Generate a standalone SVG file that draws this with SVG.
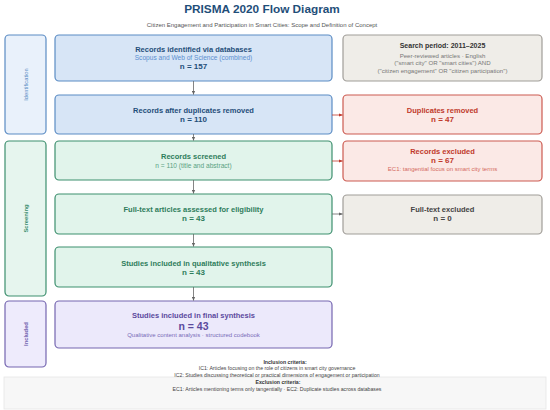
<svg xmlns="http://www.w3.org/2000/svg" width="550" height="410" viewBox="0 0 550 410">
<defs>
<marker id="ag" viewBox="0 0 6 6" refX="5.5" refY="3" markerWidth="5" markerHeight="5" orient="auto"><path d="M0,0.5 L6,3 L0,5.5 Z" fill="#666"/></marker>
<marker id="ar" viewBox="0 0 6 6" refX="5.5" refY="3" markerWidth="5" markerHeight="5" orient="auto"><path d="M0,0.5 L6,3 L0,5.5 Z" fill="#c0392b"/></marker>
<style>
text{font-family:"Liberation Sans",Arial,sans-serif;text-anchor:middle;dominant-baseline:central}
.b{font-weight:bold}
.t{font-size:7.5px;font-weight:bold}
.s{font-size:6.6px}
.n{font-size:8px;font-weight:bold}
.ph{font-size:5.8px}
.blue rect{fill:#d7e5f6;stroke:#5b8cc4;stroke-width:1.2}
.blue text{fill:#1f4e79}
.blue .s{fill:#5b8fd0}
.green rect{fill:#e1f4eb;stroke:#3d8f6e;stroke-width:1.2}
.green text{fill:#2e7d5b}
.green .s{fill:#5aa283}
.purple rect{fill:#ece9fb;stroke:#7566b0;stroke-width:1.2}
.purple text{fill:#5b4a9e}
.purple .s{fill:#7a6cb8}
.gray rect{fill:#efede8;stroke:#a09d98;stroke-width:1.2}
.gray text{fill:#333}
.gray .s{fill:#777}
.red rect{fill:#fbe9e6;stroke:#cc5a50;stroke-width:1.2}
.red text{fill:#c0392b}
.red .s{fill:#d46a60}
.conn line{stroke-width:0.8}
.crit{font-size:5.2px;fill:#444}
</style>
</defs>
<rect width="550" height="410" fill="#ffffff"/>
<text x="262" y="9" style="font-size:11.8px;font-weight:bold;fill:#1f4e79">PRISMA 2020 Flow Diagram</text>
<text x="262" y="24.5" style="font-size:6px;fill:#555">Citizen Engagement and Participation in Smart Cities: Scope and Definition of Concept</text>

<g id="phase-identification" class="blue"><rect x="5" y="35" width="41" height="99" rx="4" style="fill:#e9f1fb"/><text class="ph" transform="translate(25.5,84.5) rotate(-90)" style="fill:#5b8cc4">Identification</text></g>
<g id="phase-screening" class="green"><rect x="5" y="141" width="41" height="155" rx="4" style="fill:#e6f5ee"/><text class="ph b" transform="translate(25.5,218.5) rotate(-90)" style="fill:#3d8f6e">Screening</text></g>
<g id="phase-included" class="purple"><rect x="5" y="301" width="41" height="66" rx="4" style="fill:#eeebfc"/><text class="ph b" transform="translate(25.5,334) rotate(-90)" style="fill:#7566b0">Included</text></g>

<g id="identified" class="blue"><rect x="55" y="35" width="277" height="46" rx="4"/><text class="t" x="193.5" y="49">Records identified via databases</text><text class="s" x="193.5" y="57.7">Scopus and Web of Science (combined)</text><text class="n" x="193.5" y="66.7">n = 157</text></g>
<g id="after-duplicates" class="blue"><rect x="55" y="95" width="277" height="39" rx="4"/><text class="t" x="193.5" y="110">Records after duplicates removed</text><text class="n" x="193.5" y="119">n = 110</text></g>
<g id="screened" class="green"><rect x="55" y="141" width="277" height="39" rx="4"/><text class="t" x="193.5" y="156.5">Records screened</text><text class="s" x="193.5" y="165">n = 110 (title and abstract)</text></g>
<g id="fulltext" class="green"><rect x="55" y="194" width="277" height="40" rx="4"/><text class="t" x="193.5" y="209">Full-text articles assessed for eligibility</text><text class="n" x="193.5" y="218.8">n = 43</text></g>
<g id="qualitative" class="green"><rect x="55" y="247" width="277" height="40" rx="4"/><text class="t" x="193.5" y="263.3">Studies included in qualitative synthesis</text><text class="n" x="193.5" y="272.7">n = 43</text></g>
<g id="final" class="purple"><rect x="55" y="301" width="277" height="47" rx="4"/><text class="t" x="193.5" y="315">Studies included in final synthesis</text><text x="193.5" y="325.5" style="font-size:10.5px;font-weight:bold">n = 43</text><text class="s" x="193.5" y="335" style="font-size:6px">Qualitative content analysis · structured codebook</text></g>

<g id="search" class="gray"><rect x="343" y="35" width="199" height="46" rx="4"/><text class="t" x="442.5" y="45.7" style="font-size:7px">Search period: 2011–2025</text><text class="s" x="442.5" y="55" style="font-size:6.1px">Peer-reviewed articles · English</text><text class="s" x="442.5" y="62.7" style="font-size:6.1px">("smart city" OR "smart cities") AND</text><text class="s" x="442.5" y="70.2" style="font-size:6.1px">("citizen engagement" OR "citizen participation")</text></g>
<g id="duplicates" class="red"><rect x="343" y="95" width="199" height="39" rx="4"/><text class="t" x="442.5" y="110">Duplicates removed</text><text class="n" x="442.5" y="119">n = 47</text></g>
<g id="excluded" class="red"><rect x="343" y="141" width="199" height="40" rx="4"/><text class="t" x="442.5" y="151.7">Records excluded</text><text class="n" x="442.5" y="160.7">n = 67</text><text class="s" x="442.5" y="169.3" style="font-size:6px">EC1: tangential focus on smart city terms</text></g>
<g id="fulltext-excluded" class="gray"><rect x="343" y="195" width="199" height="39" rx="4"/><text class="t" x="442.5" y="209" style="fill:#444">Full-text excluded</text><text class="n" x="442.5" y="218.3" style="fill:#444">n = 0</text></g>

<g id="connectors" class="conn">
<line x1="193.5" y1="81" x2="193.5" y2="94.5" stroke="#666" marker-end="url(#ag)"/>
<line x1="193.5" y1="134" x2="193.5" y2="140.5" stroke="#666" marker-end="url(#ag)"/>
<line x1="193.5" y1="180" x2="193.5" y2="193.5" stroke="#666" marker-end="url(#ag)"/>
<line x1="193.5" y1="234" x2="193.5" y2="246.5" stroke="#666" marker-end="url(#ag)"/>
<line x1="193.5" y1="287" x2="193.5" y2="300.5" stroke="#666" marker-end="url(#ag)"/>
<line x1="332" y1="115" x2="342.5" y2="115" stroke="#c0392b" marker-end="url(#ar)"/>
<line x1="332" y1="161" x2="342.5" y2="161" stroke="#c0392b" marker-end="url(#ar)"/>
<line x1="332" y1="214" x2="342.5" y2="214" stroke="#666" marker-end="url(#ag)"/>
</g>

<g id="criteria">
<rect x="4" y="377" width="542" height="32" fill="#f7f7f7" stroke="#e6e6e6" stroke-width="0.8"/>
<text class="crit b" x="285" y="361.5" style="fill:#333">Inclusion criteria:</text>
<text class="crit" x="277" y="368">IC1: Articles focusing on the role of citizens in smart city governance</text>
<text class="crit" x="277" y="375">IC2: Studies discussing theoretical or practical dimensions of engagement or participation</text>
<text class="crit b" x="278" y="382" style="fill:#333">Exclusion criteria:</text>
<text class="crit" x="277" y="389">EC1: Articles mentioning terms only tangentially · EC2: Duplicate studies across databases</text>
</g>
</svg>
